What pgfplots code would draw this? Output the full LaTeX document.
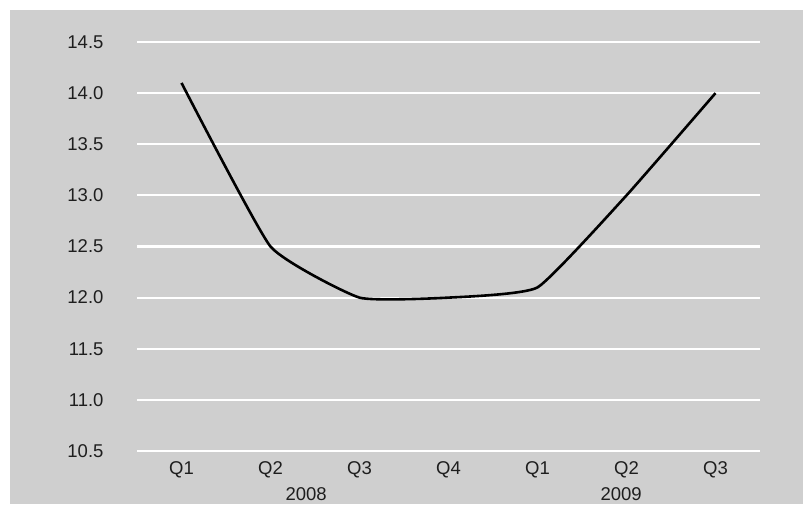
\documentclass[border=0pt]{standalone}
\usepackage{pgfplots}
\pgfplotsset{compat=1.18}
\usepackage{fontspec}
\setmainfont{Liberation Sans}
\definecolor{bg}{RGB}{207,207,207}
\definecolor{txt}{RGB}{30,30,30}
\begin{document}
\begin{tikzpicture}[x=1pt,y=1pt]
\fill[white] (0,0) rectangle (803,504);
\fill[bg] (10,0) rectangle (803,494);
\begin{axis}[
  at={(137pt,53pt)}, anchor=south west,
  scale only axis, width=623pt, height=409pt,
  xmin=-0.5, xmax=6.5, ymin=10.5, ymax=14.5,
  axis line style={draw=none},
  xtick={0,1,2,3,4,5,6},
  xticklabels={Q1,Q2,Q3,Q4,Q1,Q2,Q3},
  ytick={10.5,11,11.5,12,12.5,13,13.5,14,14.5},
  yticklabel style={/pgf/number format/fixed, /pgf/number format/fixed zerofill, /pgf/number format/precision=1},
  /pgf/number format/assume math mode=true,
  major tick length=0pt,
  ymajorgrids, grid style={white, line width=2.2pt},
  x tick label style={font=\fontsize{18.5}{22}\selectfont, text=txt, yshift=-7pt},
  y tick label style={font=\fontsize{18.5}{22}\selectfont, text=txt, xshift=-30pt},
  clip=false,
]
\addplot[black, line width=2.6pt, smooth, tension=0.25] coordinates {
  (0,14.1) (1,12.5) (2,12.0) (3,12.0) (4,12.1) (5,13.0) (6,14.0)
};
\node[font=\fontsize{18.5}{22}\selectfont, text=txt] at (axis cs:1.4,10.5) [yshift=-43pt] {2008};
\node[font=\fontsize{18.5}{22}\selectfont, text=txt] at (axis cs:4.94,10.5) [yshift=-43pt] {2009};
\end{axis}
\pgfresetboundingbox
\useasboundingbox (0,0) rectangle (803,504);
\end{tikzpicture}
\end{document}
